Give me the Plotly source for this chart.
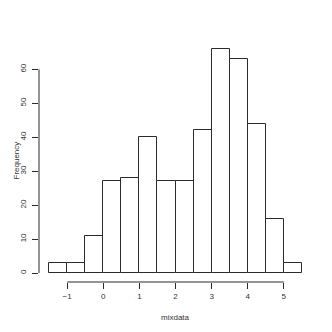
import plotly.graph_objects as go

# histogram of mixdata, breaks every 0.5
bin_left = [-1.5, -1.0, -0.5, 0.0, 0.5, 1.0, 1.5, 2.0, 2.5, 3.0, 3.5, 4.0, 4.5, 5.0]
counts = [3, 3, 11, 27, 28, 40, 27, 27, 42, 66, 63, 44, 16, 3]
bin_width = 0.5
x_ticks = [-1, 0, 1, 2, 3, 4, 5]
y_ticks = [0, 10, 20, 30, 40, 50, 60]

centers = [b + bin_width / 2 for b in bin_left]
line_col = "#2b2b2b"
font = dict(family="Liberation Sans, Arial, sans-serif", size=8, color="#333333")

fig = go.Figure()
fig.add_trace(go.Bar(
    x=centers, y=counts, width=bin_width,
    marker=dict(color="white", line=dict(color=line_col, width=1)),
    hoverinfo="x+y",
))

# R style detached axes (only span the tick range)
fig.add_shape(type="line", xref="paper", yref="y", x0=0, x1=0,
              y0=y_ticks[0], y1=y_ticks[-1], line=dict(color=line_col, width=1))
fig.add_shape(type="line", xref="x", yref="paper", x0=x_ticks[0], x1=x_ticks[-1],
              y0=0, y1=0, line=dict(color=line_col, width=1))

fig.update_xaxes(range=[-1.78, 5.78], tickvals=x_ticks, ticks="outside", ticklen=6,
                 tickcolor=line_col, showgrid=False, zeroline=False, showline=False,
                 tickfont=font)
fig.update_yaxes(range=[-2.64, 68.64], tickvals=y_ticks, ticks="outside", ticklen=6,
                 tickcolor=line_col, showgrid=False, zeroline=False, showline=False,
                 tickangle=-90, tickfont=font, ticklabelstandoff=3)

fig.add_annotation(text="mixdata", xref="paper", yref="paper", x=0.5, y=-35 / 242,
                   showarrow=False, font=font, yanchor="middle")
# keep the y title inside the figure's left edge
fig.add_annotation(text="Frequency", xref="paper", yref="paper", x=-30 / 273, y=0.5,
                   showarrow=False, font=font, textangle=-90, xanchor="left")

# page body has an 8px margin, so shift the plot area up/left by that
fig.update_layout(width=332, height=332, margin=dict(l=31, r=28, t=32, b=58),
                  plot_bgcolor="white", paper_bgcolor="white", showlegend=False,
                  bargap=0)

fig.write_html("out.html")
